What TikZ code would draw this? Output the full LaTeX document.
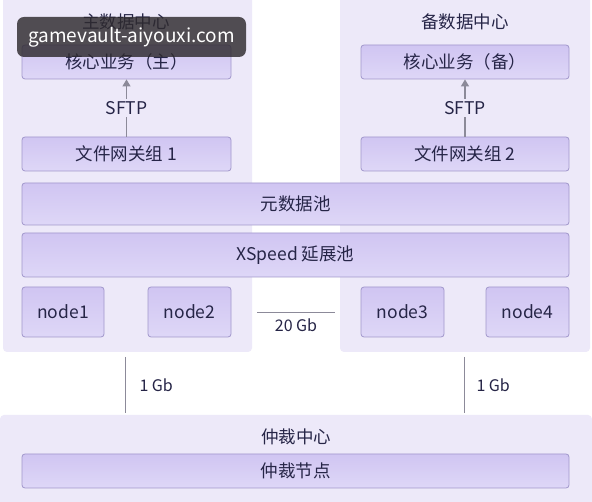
\documentclass[tikz,border=0pt]{standalone}
\usepackage{fontspec}
\setmainfont{Noto Sans CJK SC}
\usetikzlibrary{arrows.meta}
\definecolor{panel}{HTML}{EDE9F9}
\definecolor{boxtop}{HTML}{D0C5F2}
\definecolor{boxbot}{HTML}{DED7F7}
\definecolor{boxline}{HTML}{A197CB}
\definecolor{txt}{HTML}{262547}
\definecolor{conn}{HTML}{8C8A99}
\definecolor{wm}{HTML}{2E2A2E}
\begin{document}
\begin{tikzpicture}[x=1pt,y=-1pt,
  panelbox/.style={fill=panel, rounded corners=4pt},
  boxnode/.style={draw=boxline, line width=0.8pt, top color=boxtop, bottom color=boxbot, rounded corners=3pt, text=txt, inner sep=0pt, font=\fontsize{17.5}{20}\selectfont},
  titlenode/.style={text=txt, inner sep=1pt, font=\fontsize{17.5}{20}\selectfont},
  link/.style={draw=conn, line width=1pt},
  smalllabel/.style={text=txt, font=\fontsize{16}{19}\selectfont, inner sep=1pt},
  arrowlink/.style={draw=conn, line width=1.2pt, -{Triangle[length=7pt,width=8pt]}}
]
\useasboundingbox (0,0) rectangle (592,502);
\fill[white] (0,0) rectangle (592,502);
% panels
\fill[panelbox] (3,-6) rectangle (252,352);
\fill[panelbox] (340,-6) rectangle (590,352);
\fill[panelbox] (0,415) rectangle (592,512);
% titles
\node[titlenode] (t1) at (126,22) {主数据中心};
\node[titlenode] (t2) at (465,22) {备数据中心};
\node[titlenode] (t3) at (296,437) {仲裁中心};
% boxes
\node[boxnode, minimum width=209pt, minimum height=34pt] (core1) at (126.5,62) {核心业务（主）};
\node[boxnode, minimum width=208pt, minimum height=34pt] (core2) at (465,62) {核心业务（备）};
\node[boxnode, minimum width=209pt, minimum height=34pt] (gw1) at (126.5,154) {文件网关组 1};
\node[boxnode, minimum width=208pt, minimum height=34pt] (gw2) at (465,154) {文件网关组 2};
\node[boxnode, minimum width=547pt, minimum height=42pt] (meta) at (295.5,204) {元数据池};
\node[boxnode, minimum width=547pt, minimum height=44pt] (xs) at (295.5,255) {XSpeed 延展池};
\node[boxnode, minimum width=82pt, minimum height=50pt] (n1) at (63,312) {node1};
\node[boxnode, minimum width=83pt, minimum height=50pt] (n2) at (189.5,312) {node2};
\node[boxnode, minimum width=83pt, minimum height=50pt] (n3) at (402.5,312) {node3};
\node[boxnode, minimum width=83pt, minimum height=50pt] (n4) at (527.5,312) {node4};
\node[boxnode, minimum width=547pt, minimum height=34pt] (arb) at (295.5,471) {仲裁节点};
% SFTP arrows
\draw[arrowlink] (gw1.north) -- (core1.south) node[midway, fill=panel, text=txt, inner sep=2pt, font=\fontsize{17.5}{20}\selectfont] {SFTP};
\draw[arrowlink] (gw2.north) -- (core2.south) node[midway, fill=panel, text=txt, inner sep=2pt, font=\fontsize{17.5}{20}\selectfont] {SFTP};
% 20 Gb link
\coordinate (l20a) at (257,313);
\coordinate (l20b) at (335,313);
\draw[link] (l20a) -- (l20b) node[midway, below=4pt, smalllabel] {20 Gb};
% 1 Gb links
\coordinate (g1a) at (125,357);
\coordinate (g1b) at (125,413);
\coordinate (g2a) at (464,357);
\coordinate (g2b) at (464,413);
\draw[link] (g1a) -- (g1b) node[midway, right=13pt, smalllabel] {1 Gb};
\draw[link] (g2a) -- (g2b) node[midway, right=11pt, smalllabel] {1 Gb};
% watermark
\node[fill=wm, fill opacity=0.82, text opacity=1, text=white, rounded corners=7pt, minimum width=229pt, minimum height=40pt, inner sep=0pt, font=\fontsize{19}{23}\selectfont] (wmk) at (131.5,37) {gamevault-aiyouxi.com};
\end{tikzpicture}
\end{document}
